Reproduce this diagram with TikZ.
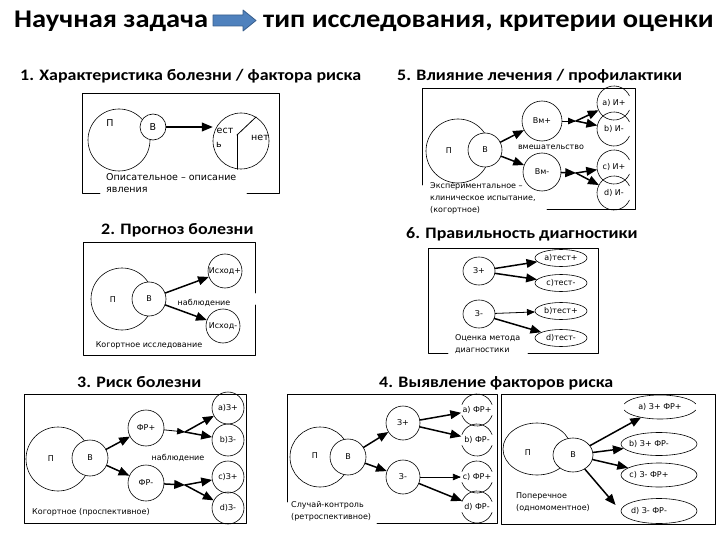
\documentclass[tikz,border=0pt]{standalone}
\usepackage{fontspec}
\setmainfont{DejaVu Sans}
\newfontfamily\headf{Carlito}[FakeStretch=1.12]
\usetikzlibrary{arrows,shapes.geometric}
\definecolor{arrblue}{HTML}{4F81BD}
\definecolor{arrline}{HTML}{385D8A}
\newcommand{\diagfont}{\fontsize{8}{12}\selectfont}
\newcommand{\onefont}{\fontsize{9.5}{11.5}\selectfont}
\newcommand{\headfont}{\headf\bfseries\fontsize{16}{19}\selectfont}
\newcommand{\titlefont}{\headf\bfseries\fontsize{25.4}{30}\selectfont}

\begin{document}
\begin{tikzpicture}[line cap=round,line join=round,>=triangle 45,x=1pt,y=-1pt,
  circ/.style={draw,circle,inner sep=0pt,line width=0.6pt,font=\diagfont},
  oval/.style={draw,ellipse,inner sep=0pt,line width=0.6pt,font=\diagfont},
  hole/.style={circle,inner sep=0pt,font=\diagfont},
  lbl/.style={inner sep=0pt,font=\diagfont},
  head/.style={inner sep=0pt,anchor=base west,font=\headfont},
  frame/.style={line width=0.8pt},
  thk/.style={->,line width=1.5pt},
  thn/.style={->,line width=0.8pt}]
\useasboundingbox (0,0) rectangle (720,540);

% title
\node[anchor=base west,inner sep=0pt,font=\titlefont] (zad) at (14,28) {Научная задача};
\node[anchor=base west,inner sep=0pt,font=\titlefont] (tip) at (263,28) {тип исследования, критерии оценки};
\draw[fill=arrblue,draw=arrline,line width=0.8pt] (213,15) -- (243,15) -- (243,10) -- (256,20.5) -- (243,31) -- (243,26) -- (213,26) -- cycle;

% 1
\node[head] (h1) at (20,81) {1. Характеристика болезни / фактора риска};
\draw[frame] (100,193) -- (82,193) -- (82,93) -- (279,93) -- (279,193) -- (247,193);
\node[circ,minimum size=62pt] (p1) at (119,140) {};
\node[lbl,font=\onefont] (p1t) at (110,123) {П};
\node[circ,fill=white,minimum size=26pt,font=\onefont] (b1) at (153,127) {В};
\node[circ,minimum size=56pt] (r1) at (241,141) {};
\coordinate (r1c) at (237,135);
\draw[line width=0.8pt] (r1c) -- (r1c |- r1.south);
\draw[line width=0.8pt] (r1c) -- (r1.58);
\draw[thk] (b1.east) -- (b1.east -| r1.west);
\node[lbl,font=\onefont] (r1a) at (225,131) {ест};
\node[lbl,font=\onefont] (r1b) at (219,145) {ь};
\node[lbl,font=\onefont] (r1n) at (260,138) {нет};
\node[lbl,font=\onefont,anchor=west,align=left] (t1) at (106,183) {Описательное – описание\\явления};

% 5
\node[head] (h5) at (397,81) {5. Влияние лечения / профилактики};
\draw[frame] (422,185) -- (422,88) -- (635,88) -- (635,209) -- (547,209);
\node[circ,minimum size=64pt] (p5) at (458,151) {};
\node[lbl] (p5t) at (449,151) {П};
\node[circ,fill=white,minimum size=34pt] (b5) at (485,150) {В};
\node[circ,minimum size=40pt] (vp) at (542,121) {Вм+};
\node[circ,minimum size=38pt] (vm) at (542,172) {Вм-};
\draw[thk] (b5) -- (vp);
\draw[thk] (b5) -- (vm);
\node[lbl] (vt) at (551,147) {вмешательство};
\coordinate (s5a) at (576,121);
\coordinate (s5b) at (576,173);
\draw[thn] (vp) -- (s5a);
\draw[thk] (vm) -- (s5b);
\foreach \n/\y/\t in {ia/103/a) И+, ib/129/b) И-, ic/167/c) И+, id/193/d) И-} {
  \node[hole,minimum size=34pt] (\n) at (614,\y) {\t};
  \draw[line width=0.6pt] ([shift={(25:17)}]\n.center) arc[start angle=25,end angle=335,radius=17];
}
\draw[thk] (s5a) -- (ia);
\draw[thk] (s5a) -- (ib);
\draw[thk] (s5b) -- (ic);
\draw[thk] (s5b) -- (id);
\node[lbl,anchor=north west,align=left] (t5) at (430,182) {Экспериментальное –\\клиническое испытание,\\(когортное)};

% 2
\node[head] (h2) at (101,234) {2. Прогноз болезни};
\draw[frame] (255,293) -- (255,242) -- (83,242) -- (83,355) -- (255,355) -- (255,305);
\node[circ,minimum size=62pt] (p2) at (122,299) {};
\node[lbl] (p2t) at (113,300) {П};
\node[circ,fill=white,minimum size=34pt] (b2) at (149,299) {В};
\node[circ,minimum size=34pt,label={[lbl]center:Исход+}] (ip) at (225,271) {};
\node[circ,minimum size=34pt,label={[lbl]center:Исход-}] (im) at (223,326) {};
\draw[thk] (b2) -- (ip);
\draw[thk] (b2) -- (im);
\node[lbl] (nb2) at (204,303) {наблюдение};
\node[lbl] (t2) at (149,345) {Когортное исследование};

% 6
\node[head] (h6) at (406,239) {6. Правильность диагностики};
\draw[frame] (448,353) -- (428,353) -- (428,248) -- (598,248) -- (598,353) -- (528,353);
\node[oval,minimum width=32pt,minimum height=28pt] (zp) at (479,271) {З+};
\node[oval,minimum width=32pt,minimum height=28pt] (zm) at (479,314) {З-};
\node[oval,minimum width=52pt,minimum height=17pt] (ta) at (561,258) {a)тест+};
\node[oval,minimum width=52pt,minimum height=17pt] (tc) at (561,283) {c)тест-};
\node[oval,minimum width=52pt,minimum height=17pt] (tb) at (561,311) {b)тест+};
\node[oval,minimum width=52pt,minimum height=17pt] (td) at (561,338) {d)тест-};
\draw[thk] (zp) -- (ta);
\draw[thk] (zp) -- (tc);
\draw[thn] (zm) -- (tb);
\draw[thk] (zm) -- (td);
\node[lbl,anchor=north west,align=left] (t6) at (455,334) {Оценка метода\\диагностики};

% 3
\node[head] (h3) at (77,387) {3. Риск болезни};
\draw[frame] (24,394) rectangle (246,523);
\node[circ,minimum size=64pt] (p3) at (58,459) {};
\node[lbl] (p3t) at (51,459) {П};
\node[circ,fill=white,minimum size=36pt] (b3) at (90,458) {В};
\node[circ,minimum size=36pt] (fp) at (146,428) {ФР+};
\node[circ,minimum size=36pt] (fm) at (146,483) {ФР-};
\draw[thk] (b3) -- (fp);
\draw[thk] (b3) -- (fm);
\coordinate (s3a) at (185,432);
\coordinate (s3b) at (185,485);
\draw[thn] (fp) -- (s3a);
\draw[thk] (fm) -- (s3b);
\foreach \n/\y/\t in {za/408/a)З+, zb/440/b)З-, zc/477/c)З+, zd/508/d)З-}
  \node[circ,minimum size=32pt] (\n) at (228,\y) {\t};
\draw[thk] (s3a) -- (za);
\draw[thk] (s3a) -- (zb);
\draw[thk] (s3b) -- (zc);
\draw[thk] (s3b) -- (zd);
\node[lbl] (nb3) at (178,458) {наблюдение};
\node[lbl,anchor=west] (t3) at (32,512) {Когортное (проспективное)};

% 4
\node[head] (h4) at (379,387) {4. Выявление факторов риска};
\draw[frame] (287,502) -- (287,394) -- (497,394) -- (497,523) -- (377,523);
\node[circ,minimum size=60pt] (p4) at (320,457) {};
\node[lbl] (p4t) at (315,456) {П};
\node[circ,fill=white,minimum size=36pt] (b4) at (348,457) {В};
\node[circ,minimum size=34pt] (zp4) at (403,423) {З+};
\node[circ,minimum size=34pt] (zm4) at (403,477) {З-};
\draw[thk] (b4) -- (zp4);
\draw[thk] (b4) -- (zm4);
\foreach \n/\y/\t in {ra/410/a) ФР+, rb/440/b) ФР-, rc/477/c) ФР+, rd/507/d) ФР-} {
  \node[hole,minimum size=32pt] (\n) at (477,\y) {\t};
  \draw[line width=0.6pt] ([shift={(20:16)}]\n.center) arc[start angle=20,end angle=160,radius=16];
  \draw[line width=0.6pt] ([shift={(200:16)}]\n.center) arc[start angle=200,end angle=340,radius=16];
}
\draw[thk] (zp4) -- (ra);
\draw[thk] (zp4) -- (rb);
\draw[thn] (zm4) -- (rc);
\draw[thk] (zm4) -- (rd);
\node[lbl,anchor=north west,align=left] (t4) at (291,501) {Случай-контроль\\(ретроспективное)};

\draw[frame] (501,394) rectangle (715,524);
\node[oval,minimum width=68pt,minimum height=52pt] (p4r) at (537,449) {};
\node[lbl] (p4rt) at (528,453) {П};
\node[oval,fill=white,minimum width=40pt,minimum height=34pt] (b4r) at (573,455) {В};
\node[ellipse,inner sep=0pt,minimum width=74pt,minimum height=24pt,font=\diagfont] (ea) at (660,407) {a) З+ ФР+};
\draw[line width=0.6pt] ([shift={(15:37 and 12)}]ea.center) arc[start angle=15,end angle=165,x radius=37,y radius=12];
\draw[line width=0.6pt] ([shift={(195:37 and 12)}]ea.center) arc[start angle=195,end angle=345,x radius=37,y radius=12];
\node[oval,minimum width=76pt,minimum height=23pt,label={[lbl,xshift=-10pt]center:b) З+ ФР-}] (eb) at (659,444) {};
\node[oval,minimum width=76pt,minimum height=24pt,label={[lbl,xshift=-10pt]center:c) З- ФР+}] (ec) at (659,475) {};
\node[oval,minimum width=76pt,minimum height=25pt,label={[lbl,xshift=-10pt]center:d) З- ФР-}] (ed) at (659,511) {};
\draw[thk] (b4r) -- (ea);
\draw[thk] (b4r) -- (eb);
\draw[thk] (b4r) -- (ec);
\draw[thk,shorten >=8pt] (b4r.-50) -- (ed.west);
\node[lbl,anchor=north west,align=left] (t4r) at (516,492) {Поперечное\\(одномоментное)};
\end{tikzpicture}
\end{document}
